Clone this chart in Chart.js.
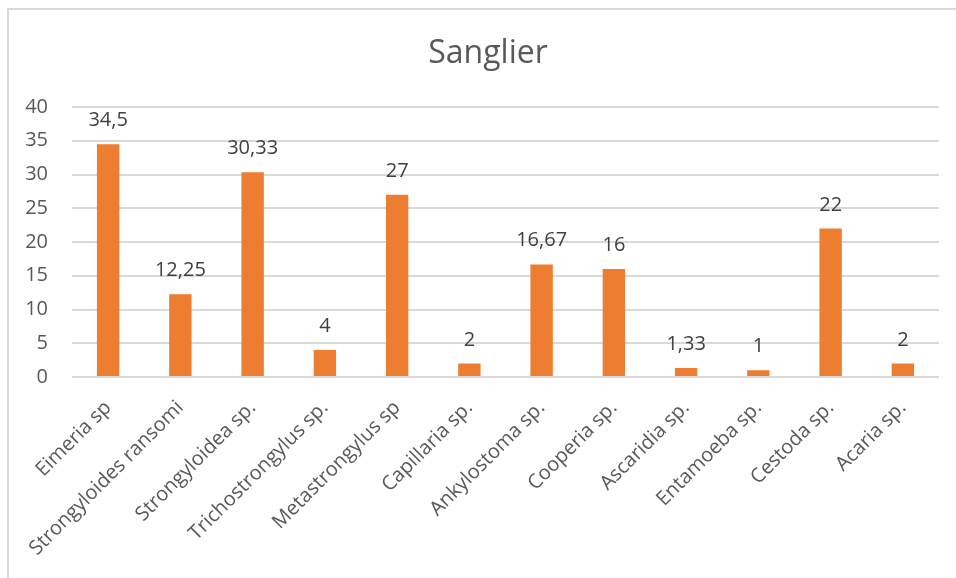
<!DOCTYPE html>
<html>
<head>
<meta charset="utf-8">
<script src="https://cdn.jsdelivr.net/npm/chart.js@4"></script>
<style>
  html, body { margin: 0; padding: 0; background: #fff; overflow: hidden; }
  #wrap { position: relative; width: 956px; height: 578px; }
  #frame { position: absolute; left: 7px; top: 8px; width: 1000px; height: 1000px;
           border-left: 2px solid #d9d9d9; border-top: 2px solid #d9d9d9; }
  canvas { position: absolute; left: 0; top: 0; }
</style>
</head>
<body>
<div id="wrap">
  <div id="frame"></div>
  <canvas id="chart" width="956" height="578"></canvas>
</div>
<script>
const chartTitle = 'Sanglier';
const categories = ['Eimeria sp', 'Strongyloides ransomi', 'Strongyloidea sp.', 'Trichostrongylus sp.',
  'Metastrongylus sp', 'Capillaria sp.', 'Ankylostoma sp.', 'Cooperia sp.', 'Ascaridia sp.',
  'Entamoeba sp.', 'Cestoda sp.', 'Acaria sp.'];
const values = [34.5, 12.25, 30.33, 4, 27, 2, 16.67, 16, 1.33, 1, 22, 2];
const yTicks = [0, 5, 10, 15, 20, 25, 30, 35, 40];

const fontFamily = '"Open Sans", sans-serif';

// title centred on the whole frame, value labels above bars (decimal comma)
const annotate = {
  id: 'annotate',
  afterDatasetsDraw(chart) {
    const ctx = chart.ctx;
    const meta = chart.getDatasetMeta(0);
    ctx.save();
    ctx.textAlign = 'center';
    ctx.textBaseline = 'alphabetic';

    ctx.font = '32px ' + fontFamily;
    ctx.fillStyle = '#595959';
    ctx.fillText(chartTitle, 488, 63);

    ctx.font = '20px ' + fontFamily;
    ctx.fillStyle = '#404040';
    meta.data.forEach((bar, i) => {
      const txt = String(values[i]).replace('.', ',');
      ctx.fillText(txt, bar.x, bar.y - 18);
    });
    ctx.restore();
  }
};

const ctx = document.getElementById('chart').getContext('2d');
new Chart(ctx, {
  type: 'bar',
  data: {
    labels: categories,
    datasets: [{
      data: values,
      backgroundColor: '#ED7D31',
      barPercentage: 0.31,
      categoryPercentage: 1
    }]
  },
  options: {
    responsive: false,
    animation: false,
    layout: { padding: { left: 0, right: 17, top: 107, bottom: 0 } },
    plugins: {
      legend: { display: false },
      tooltip: { enabled: false },
      title: { display: false }
    },
    scales: {
      x: {
        grid: { display: false },
        border: { display: false },
        ticks: {
          color: '#595959',
          font: { family: fontFamily, size: 20 },
          minRotation: 45,
          maxRotation: 45,
          autoSkip: false,
          padding: 11
        },
        afterFit(scale) { scale.height = 201; }
      },
      y: {
        min: 0,
        max: 40,
        afterBuildTicks(scale) { scale.ticks = yTicks.map(v => ({ value: v })); },
        grid: { color: '#d9d9d9', lineWidth: 2, drawTicks: false },
        border: { display: false },
        ticks: {
          color: '#595959',
          font: { family: fontFamily, size: 20 },
          padding: 24
        },
        afterFit(scale) { scale.width = 72; }
      }
    }
  },
  plugins: [annotate]
});
</script>
</body>
</html>
